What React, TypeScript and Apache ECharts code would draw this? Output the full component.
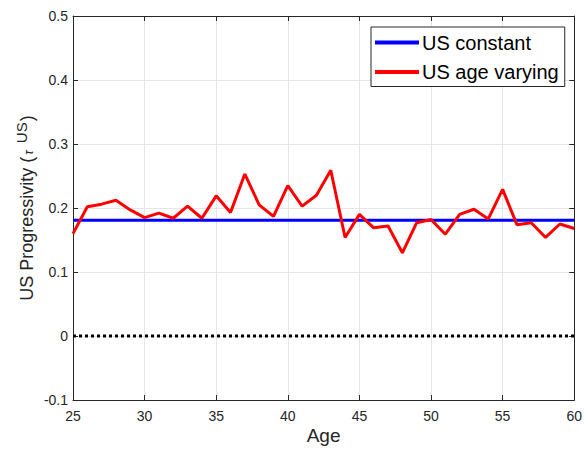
import React, { useEffect, useRef } from "react";
import * as echarts from "echarts";

const AGES = [25, 26, 27, 28, 29, 30, 31, 32, 33, 34, 35, 36, 37, 38, 39, 40, 41, 42,
  43, 44, 45, 46, 47, 48, 49, 50, 51, 52, 53, 54, 55, 56, 57, 58, 59, 60];
const US_AGE_VARYING = [0.160, 0.202, 0.206, 0.212, 0.197, 0.185, 0.192, 0.184, 0.203,
  0.184, 0.219, 0.193, 0.253, 0.205, 0.187, 0.235, 0.203, 0.220, 0.259, 0.154, 0.190,
  0.169, 0.172, 0.130, 0.177, 0.182, 0.159, 0.190, 0.198, 0.183, 0.229, 0.174, 0.177,
  0.154, 0.175, 0.168];
const US_CONSTANT = 0.181;
const ZERO_LINE = 0;
const SERIES_NAMES = ["US constant", "US age varying"];
const X_NAME = "Age";

const FONT = "Liberation Sans, Arial, Helvetica, sans-serif";
const AXIS_COLOR = "#262626";
const GRID_COLOR = "#e6e6e6";

export default function App() {
  const ref = useRef<HTMLDivElement>(null);
  useEffect(() => {
    if (!ref.current) return;
    const chart = echarts.init(ref.current, undefined, { renderer: "svg" });
    const xCommon = {
      type: "value",
      min: 25,
      max: 60,
      interval: 5,
      axisLine: { show: true, onZero: false, lineStyle: { color: AXIS_COLOR, width: 1 } },
      axisTick: { show: true, inside: true, length: 5, lineStyle: { color: AXIS_COLOR } },
    };
    const yCommon = {
      type: "value",
      min: -0.1,
      max: 0.5,
      interval: 0.1,
      axisLine: { show: true, onZero: false, lineStyle: { color: AXIS_COLOR, width: 1 } },
      axisTick: { show: true, inside: true, length: 5, lineStyle: { color: AXIS_COLOR } },
    };
    chart.setOption({
      animation: false,
      textStyle: { fontFamily: FONT },
      grid: { left: 73, right: 6, top: 16, bottom: 48, containLabel: false },
      legend: {
        data: SERIES_NAMES,
        orient: "vertical",
        left: 371,
        top: 27,
        backgroundColor: "#ffffff",
        borderColor: AXIS_COLOR,
        borderWidth: 1,
        borderRadius: 0,
        padding: [5.5, 6, 4.5, 4],
        itemGap: 9.5,
        itemWidth: 44,
        itemHeight: 4,
        icon: "rect",
        textStyle: { fontSize: 20, color: "#000000", fontFamily: FONT, padding: [0, 0, 0, -2] },
      },
      xAxis: [
        {
          ...xCommon,
          position: "bottom",
          name: X_NAME,
          nameLocation: "middle",
          nameGap: 26,
          nameMoveOverlap: false,
          nameTextStyle: { fontSize: 19, color: AXIS_COLOR, fontFamily: FONT },
          axisLabel: {
            show: true,
            margin: 9,
            fontSize: 14,
            color: AXIS_COLOR,
            fontFamily: FONT,
          },
          splitLine: { show: true, lineStyle: { color: GRID_COLOR, width: 1 } },
        },
        {
          ...xCommon,
          position: "top",
          axisLabel: { show: false },
          splitLine: { show: false },
        },
      ],
      yAxis: [
        {
          ...yCommon,
          position: "left",
          name: "{a|US Progressivity (}{t|τ}{s|US}{a|)}",
          nameLocation: "middle",
          nameGap: 29,
          nameMoveOverlap: false,
          nameTextStyle: {
            color: AXIS_COLOR,
            fontFamily: FONT,
            rich: {
              a: { fontSize: 18, lineHeight: 34, color: AXIS_COLOR, fontFamily: FONT },
              t: {
                fontSize: 12, fontStyle: "italic", color: AXIS_COLOR, fontFamily: FONT,
                lineHeight: 12, verticalAlign: "middle", padding: [4, 6, 0, 2],
              },
              s: {
                fontSize: 15, color: AXIS_COLOR, fontFamily: FONT, lineHeight: 15,
                verticalAlign: "top", padding: [4, 1, 0, 1],
              },
            },
          },
          axisLabel: {
            show: true,
            margin: 5,
            fontSize: 14,
            color: AXIS_COLOR,
            fontFamily: FONT,
            formatter: (v: number) => String(Math.round(v * 10) / 10),
          },
          splitLine: { show: true, lineStyle: { color: GRID_COLOR, width: 1 } },
        },
        {
          ...yCommon,
          position: "right",
          axisLabel: { show: false },
          splitLine: { show: false },
        },
      ],
      series: [
        {
          name: "zero",
          type: "line",
          data: [[AGES[0], ZERO_LINE], [AGES[AGES.length - 1], ZERO_LINE]],
          symbol: "none",
          silent: true,
          lineStyle: { color: "#000000", width: 3, type: [3, 3] },
          z: 3,
        },
        {
          name: SERIES_NAMES[0],
          type: "line",
          data: AGES.map((a) => [a, US_CONSTANT]),
          symbol: "none",
          color: "#0000ff",
          lineStyle: { color: "#0000ff", width: 3 },
          z: 4,
        },
        {
          name: SERIES_NAMES[1],
          type: "line",
          data: AGES.map((a, i) => [a, US_AGE_VARYING[i]]),
          symbol: "none",
          color: "#ff0000",
          lineStyle: { color: "#ff0000", width: 3 },
          z: 5,
        },
      ],
    });
    return () => chart.dispose();
  }, []);
  return (
    <div
      ref={ref}
      style={{ position: "fixed", left: 0, top: 0, width: 585, height: 450, background: "#ffffff" }}
    />
  );
}
